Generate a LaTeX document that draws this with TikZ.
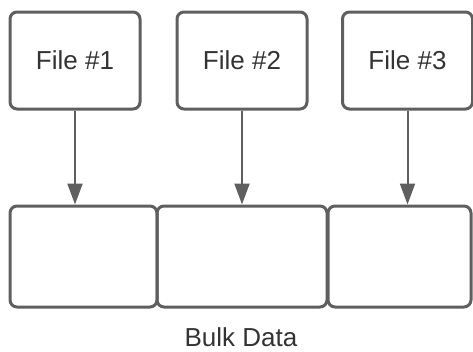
\documentclass[tikz,border=0pt]{standalone}
\usepackage{fontspec}
\setmainfont{Liberation Sans}
\usetikzlibrary{arrows.meta,positioning}
\definecolor{edgegray}{RGB}{95,95,95}
\definecolor{textgray}{RGB}{51,51,51}

\begin{document}
\begin{tikzpicture}[x=1pt, y=-1pt,
    every node/.style={font=\fontsize{26}{30}\selectfont, text=textgray},
    filebox/.style={draw=edgegray, line width=3pt, rounded corners=7pt, minimum width=130pt, minimum height=97pt},
    chunk/.style={draw=edgegray, line width=3pt, rounded corners=7pt, minimum height=101pt, inner sep=0pt},
    feed/.style={-{Triangle[length=21pt,width=15pt]}, line width=2pt, edgegray}]
    \useasboundingbox (0,0) rectangle (473,351);
    \node[filebox] (f1) at (75,60.5) {File \#1};
    \node[filebox] (f2) at (242,60.5) {File \#2};
    \node[filebox] (f3) at (407.5,60.5) {File \#3};
    \node[chunk, minimum width=147pt] (b1) at (83.5,256.5) {};
    \node[chunk, minimum width=170pt] (b2) at (242,256.5) {};
    \node[chunk, minimum width=143pt] (b3) at (399.5,256.5) {};
    \draw[feed] (f1.south) -- (f1.south |- b1.north);
    \draw[feed] (f2.south) -- (f2.south |- b2.north);
    \draw[feed] (f3.south) -- (f3.south |- b3.north);
    \node[inner sep=0pt] (bulk) at (241,337) {Bulk Data};
  \end{tikzpicture}
\end{document}
